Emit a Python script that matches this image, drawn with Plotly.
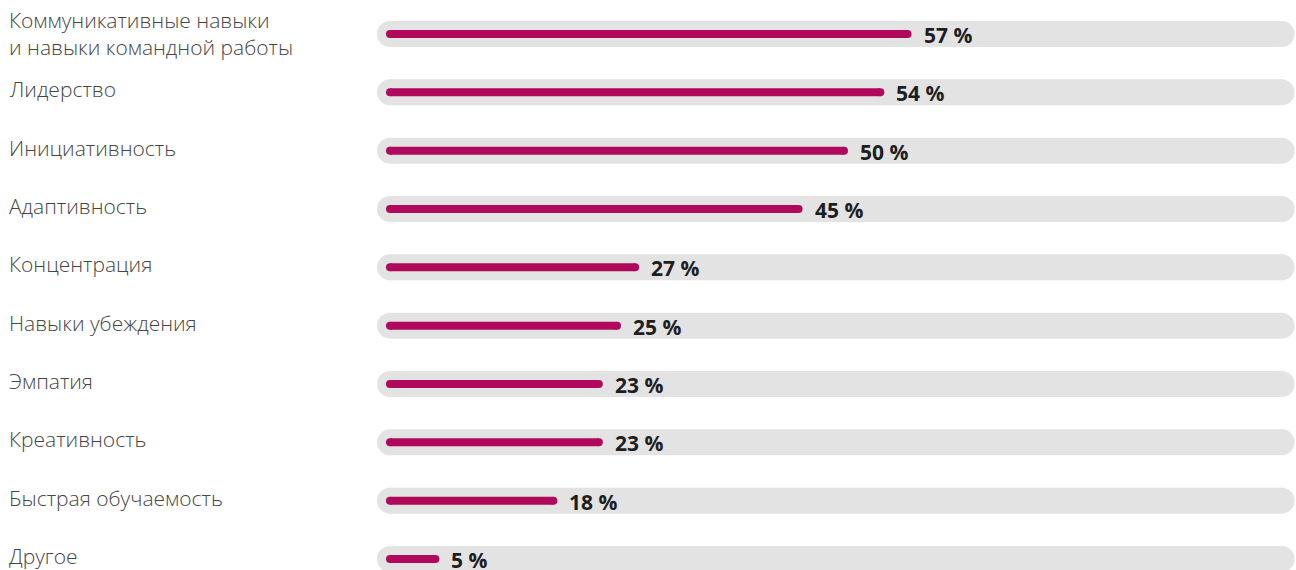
import plotly.graph_objects as go

categories = [
    "Коммуникативные навыки<br>и навыки командной работы",
    "Лидерство",
    "Инициативность",
    "Адаптивность",
    "Концентрация",
    "Навыки убеждения",
    "Эмпатия",
    "Креативность",
    "Быстрая обучаемость",
    "Другое",
]
values = [57, 54, 50, 45, 27, 25, 23, 23, 18, 5]
value_labels = [f"{v} %" for v in values]
track_max = 98.2  # visual extent of the grey background track

BAR_COLOR = "#b0095c"
TRACK_COLOR = "#e3e3e3"

fig = go.Figure()

for i, (cat, v) in enumerate(zip(categories, values)):
    fig.add_trace(go.Scatter(
        x=[0, track_max], y=[i, i], mode="lines+markers",
        line=dict(color=TRACK_COLOR, width=26),
        marker=dict(color=TRACK_COLOR, size=26, line=dict(width=0)),
        hoverinfo="skip", showlegend=False,
    ))
for i, (cat, v) in enumerate(zip(categories, values)):
    fig.add_trace(go.Scatter(
        x=[0, v], y=[i, i], mode="lines+markers",
        line=dict(color=BAR_COLOR, width=8),
        marker=dict(color=BAR_COLOR, size=8, line=dict(width=0)),
        hovertemplate=f"{cat.replace('<br>', ' ')}: {v} %<extra></extra>",
        showlegend=False,
    ))

label_font = dict(family="Open Sans", size=21, color="#464646", weight=300)
annotations = []
for i, (cat, v, lab) in enumerate(zip(categories, values, value_labels)):
    annotations.append(dict(
        x=v, y=i, xref="x", yref="y", text=lab, showarrow=False,
        xanchor="left", yanchor="middle", xshift=14, yshift=-1,
        font=dict(family="Open Sans", size=21, color="#1e1e1e", weight=700),
    ))
    annotations.append(dict(
        x=7 / 1296, y=i, xref="paper", yref="y", text=cat, showarrow=False,
        xanchor="left", yanchor="middle", align="left",
        yshift=3 if "<br>" not in cat else 1,
        font=label_font,
    ))

fig.update_layout(
    width=1296, height=570,
    margin=dict(l=0, r=0, t=0, b=0),
    paper_bgcolor="white", plot_bgcolor="white",
    xaxis=dict(range=[-42.95, 99.78], visible=False, fixedrange=True),
    yaxis=dict(range=[9.189, -0.583], visible=False, fixedrange=True),
    annotations=annotations,
)

fig.write_html("out.html", config={"displayModeBar": False},
               post_script="document.body.style.margin='0';")
